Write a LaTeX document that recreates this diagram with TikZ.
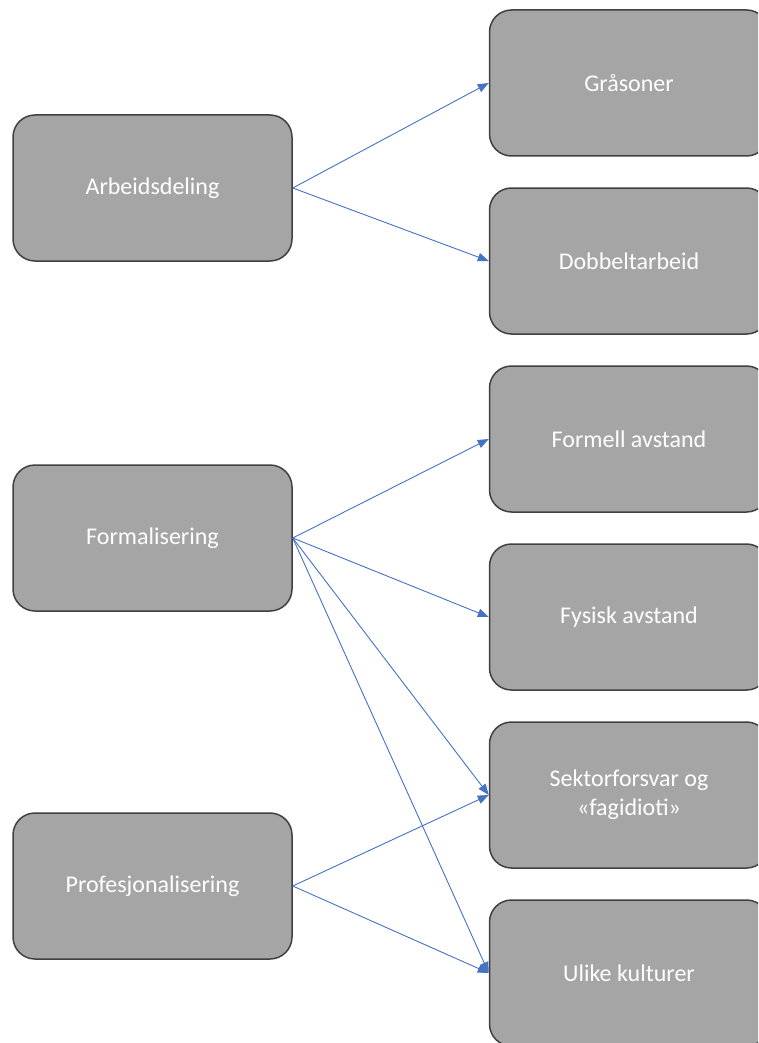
\documentclass[tikz,border=0pt]{standalone}
\usepackage{fontspec}
\setmainfont{Carlito}
\usetikzlibrary{positioning,arrows.meta}

\definecolor{boxgray}{HTML}{A5A5A5}
\definecolor{boxline}{HTML}{404040}
\definecolor{arrowblue}{HTML}{4472C4}

\tikzset{
  box/.style={draw=boxline, line width=1.5pt, fill=boxgray, rounded corners=22pt,
    minimum width=279pt, minimum height=146pt, text=white, align=center,
    font=\fontsize{24}{29}\selectfont},
  link/.style={color=arrowblue, line width=0.9pt, -{Triangle[length=11pt,width=8.5pt]}}
}

\begin{document}
\begin{tikzpicture}[x=1pt,y=-1pt,node distance=178pt,on grid]
    \useasboundingbox (0,0) rectangle (758,1043);
    \clip (0,0) rectangle (758,1043);
    \node[box] (a) at (152.5,188) {Arbeidsdeling};
    \node[box] (f) [below=350pt of a] {Formalisering};
    \node[box] (p) [below=348pt of f] {Profesjonalisering};

    \node[box] (g) at (629,83) {Gråsoner};
    \node[box] (d) [below=of g] {Dobbeltarbeid};
    \node[box] (fa) [below=of d] {Formell avstand};
    \node[box] (fy) [below=of fa] {Fysisk avstand};
    \node[box] (s) [below=of fy] {Sektorforsvar og\\«fagidioti»};
    \node[box] (u) [below=of s] {Ulike kulturer};

    \path (a.east) edge[link] (g.west);
    \path (a.east) edge[link] (d.west);
    \path (f.east) edge[link] (fa.west);
    \path (f.east) edge[link] (fy.west);
    \path (f.east) edge[link] (s.west);
    \path (f.east) edge[link] (u.west);
    \path (p.east) edge[link] (s.west);
    \path (p.east) edge[link] (u.west);
\end{tikzpicture}
\end{document}
